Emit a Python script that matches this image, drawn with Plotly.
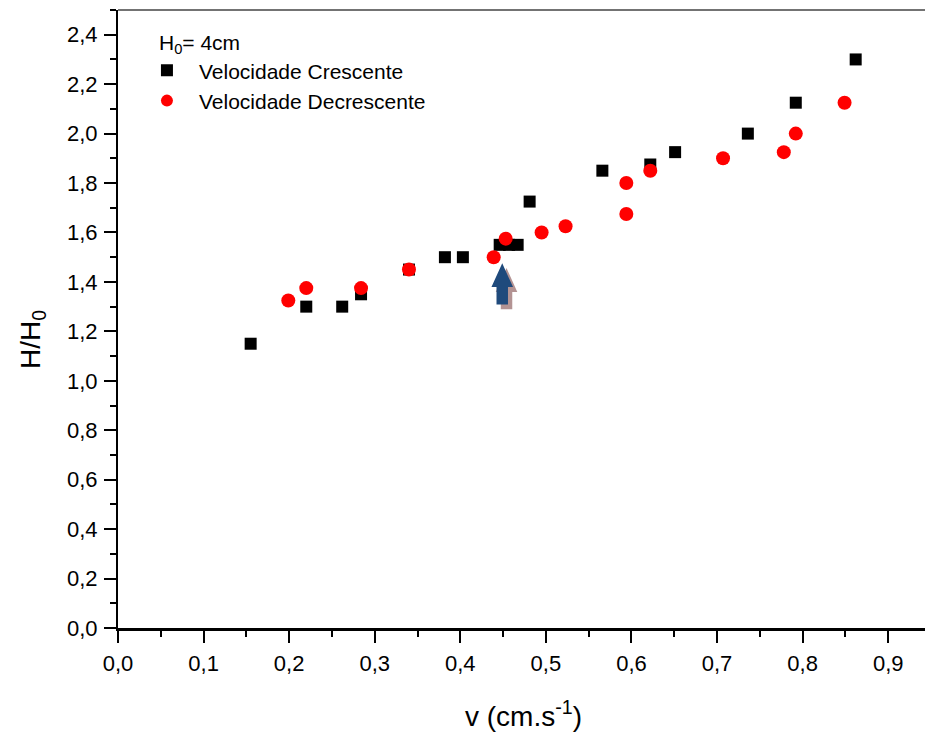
import plotly.graph_objects as go

# Data: Velocidade Crescente (black squares)
v_cres = [0.155, 0.220, 0.262, 0.284, 0.340, 0.382, 0.403, 0.446, 0.457, 0.467,
          0.481, 0.566, 0.622, 0.651, 0.736, 0.792, 0.862]
h_cres = [1.15, 1.30, 1.30, 1.35, 1.45, 1.50, 1.50, 1.55, 1.55, 1.55,
          1.725, 1.85, 1.875, 1.925, 2.00, 2.125, 2.30]

# Data: Velocidade Decrescente (red circles)
v_decr = [0.199, 0.220, 0.284, 0.340, 0.439, 0.453, 0.495, 0.523, 0.594, 0.594,
          0.622, 0.707, 0.778, 0.792, 0.849]
h_decr = [1.325, 1.375, 1.375, 1.45, 1.50, 1.575, 1.60, 1.625, 1.675, 1.80,
          1.85, 1.90, 1.925, 2.00, 2.125]

x_ticks = [0.0, 0.1, 0.2, 0.3, 0.4, 0.5, 0.6, 0.7, 0.8, 0.9]
y_ticks = [0.0, 0.2, 0.4, 0.6, 0.8, 1.0, 1.2, 1.4, 1.6, 1.8, 2.0, 2.2, 2.4]

# Arrow annotation parameters (data units)
arrow_x = 0.449
arrow_tip = 1.476
arrow_neck = 1.379
arrow_base = 1.309
arrow_head_half = 0.0126
arrow_shaft_half = 0.0067
shadow_dx = 0.005
shadow_dy = -0.02

FONT = "Liberation Sans, Arial, sans-serif"
FS = 22
LFS = 21

fig = go.Figure()
fig.add_trace(go.Scatter(x=v_cres, y=h_cres, mode="markers", name="Velocidade Crescente",
                         marker=dict(symbol="square", size=12, color="black")))
fig.add_trace(go.Scatter(x=v_decr, y=h_decr, mode="markers", name="Velocidade Decrescente",
                         marker=dict(symbol="circle", size=14, color="#ff0000")))


def arrow_path(dx, dy):
    xc = arrow_x + dx
    pts = [
        (xc - arrow_shaft_half, arrow_base + dy),
        (xc - arrow_shaft_half, arrow_neck + dy),
        (xc - arrow_head_half, arrow_neck + dy),
        (xc, arrow_tip + dy),
        (xc + arrow_head_half, arrow_neck + dy),
        (xc + arrow_shaft_half, arrow_neck + dy),
        (xc + arrow_shaft_half, arrow_base + dy),
    ]
    return "M " + " L ".join(f"{a},{b}" for a, b in pts) + " Z"


fig.add_shape(type="path", path=arrow_path(shadow_dx, shadow_dy), xref="x", yref="y",
              fillcolor="rgba(160,120,120,0.8)", line=dict(width=0), layer="above")
fig.add_shape(type="path", path=arrow_path(0, 0), xref="x", yref="y",
              fillcolor="#1f4a7c", line=dict(width=0), layer="above")
# top frame line
fig.add_shape(type="line", xref="paper", yref="paper", x0=0, x1=1, y0=1, y1=1,
              line=dict(color="#444", width=1.5))

fig.update_layout(
    width=925, height=733,
    margin=dict(l=118, r=0, t=10, b=105),
    paper_bgcolor="white", plot_bgcolor="white",
    separators=",.",
    font=dict(family=FONT, size=FS, color="black"),
    showlegend=True,
    legend=dict(x=0.021, y=0.935, xanchor="left", yanchor="top", xref="paper", yref="paper",
                font=dict(size=LFS, family=FONT), itemwidth=54, bgcolor="rgba(0,0,0,0)",
                tracegroupgap=0, itemsizing="constant"),
    annotations=[
        dict(text="H<sub>0</sub>= 4cm", xref="paper", yref="paper", x=(157 - 118) / 807,
             y=(628 - 44) / 618, xanchor="left", yanchor="middle", showarrow=False,
             font=dict(size=FS - 1, family=FONT)),
        dict(text="v (cm.s<sup>-1</sup>)", xref="paper", yref="paper", x=(523 - 118) / 807,
             y=-(714 - 628) / 618, xanchor="center", yanchor="middle", showarrow=False,
             font=dict(size=28, family=FONT)),
        dict(text="H/H<sub>0</sub>", xref="paper", yref="paper", x=-(118 - 32) / 807,
             y=(628 - 340) / 618, xanchor="center", yanchor="middle", showarrow=False,
             textangle=-90, font=dict(size=28, family=FONT)),
    ],
)

fig.update_xaxes(range=[0, 0.943], tickvals=x_ticks, tickformat=".1f",
                 showline=True, linewidth=2.5, linecolor="black", mirror=False,
                 ticks="outside", ticklen=12, tickwidth=2, tickcolor="black",
                 showgrid=False, zeroline=False, ticklabelstandoff=2,
                 minor=dict(dtick=0.05, tick0=0, ticks="outside", ticklen=6, tickwidth=2,
                            tickcolor="black", showgrid=False),
                 tickfont=dict(size=FS, family=FONT))
fig.update_yaxes(range=[0, 2.5], tickvals=y_ticks, tickformat=".1f",
                 showline=True, linewidth=2, linecolor="black", mirror=False,
                 ticks="outside", ticklen=12, tickwidth=2, tickcolor="black",
                 showgrid=False, zeroline=False, ticklabelstandoff=2,
                 minor=dict(dtick=0.1, tick0=0, ticks="outside", ticklen=6, tickwidth=2,
                            tickcolor="black", showgrid=False),
                 tickfont=dict(size=FS, family=FONT))

fig.write_html("out.html", config={"displayModeBar": False},
               post_script="document.body.style.margin='0';document.body.style.overflow='hidden';")
